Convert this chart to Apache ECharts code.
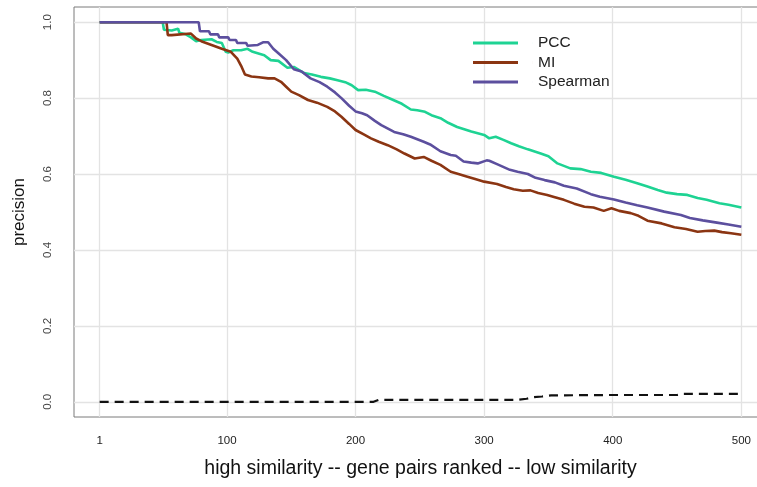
<!DOCTYPE html>
<html>
<head>
<meta charset="utf-8">
<script src="https://cdn.jsdelivr.net/npm/echarts@6/dist/echarts.min.js"></script>
<style>
  html, body { margin: 0; padding: 0; background: #ffffff; }
  #chart { width: 757px; height: 487px; }
</style>
</head>
<body>
<div id="chart"></div>
<script>
// Precision of the top-ranked gene pairs for three similarity measures,
// plus a random baseline (dashed). Each point is [rank, precision].
const xTicks = [1, 100, 200, 300, 400, 500];
const yTicks = [0, 0.2, 0.4, 0.6, 0.8, 1.0];

const pcc = [
  [1, 1.0], [50, 1.0], [51, 0.98], [57, 0.978], [58, 0.983], [62, 0.983], [63, 0.972],
  [68, 0.968], [72, 0.96], [76, 0.95], [80, 0.953], [88, 0.955], [92, 0.948], [96, 0.945],
  [99, 0.922], [101, 0.92], [105, 0.926], [111, 0.926], [116, 0.93], [120, 0.922],
  [129, 0.913], [134, 0.9], [140, 0.898], [147, 0.88], [152, 0.882], [160, 0.866],
  [166, 0.862], [173, 0.856], [180, 0.852], [186, 0.847], [192, 0.842], [197, 0.834],
  [202, 0.821], [208, 0.822], [215, 0.817], [222, 0.806], [228, 0.797], [236, 0.785],
  [243, 0.77], [248, 0.768], [254, 0.764], [259, 0.755], [266, 0.747], [272, 0.735],
  [279, 0.724], [290, 0.712], [300, 0.703], [304, 0.694], [309, 0.698], [315, 0.69],
  [321, 0.681], [327, 0.673], [334, 0.665], [344, 0.654], [350, 0.647], [357, 0.628],
  [367, 0.615], [375, 0.613], [383, 0.606], [391, 0.603], [401, 0.593], [410, 0.585],
  [419, 0.576], [427, 0.567], [435, 0.558], [442, 0.551], [450, 0.547], [458, 0.545],
  [466, 0.537], [473, 0.532], [483, 0.523], [490, 0.519], [500, 0.512]
];

const mi = [
  [1, 1.0], [53, 1.0], [54, 0.966], [57, 0.966], [58, 0.97], [72, 0.97], [76, 0.957],
  [80, 0.95], [88, 0.94], [96, 0.93], [103, 0.922], [108, 0.904], [111, 0.885],
  [114, 0.862], [119, 0.857], [125, 0.855], [132, 0.852], [137, 0.852], [142, 0.843],
  [146, 0.83], [150, 0.817], [156, 0.808], [163, 0.795], [170, 0.788], [178, 0.777],
  [184, 0.765], [189, 0.751], [195, 0.732], [200, 0.716], [206, 0.705], [212, 0.694],
  [218, 0.685], [225, 0.676], [232, 0.665], [238, 0.654], [246, 0.641], [253, 0.645],
  [259, 0.635], [266, 0.624], [274, 0.606], [280, 0.6], [287, 0.593], [293, 0.587],
  [300, 0.58], [310, 0.574], [317, 0.566], [323, 0.56], [330, 0.556], [336, 0.557],
  [342, 0.55], [349, 0.545], [355, 0.539], [362, 0.532], [370, 0.522], [378, 0.514],
  [385, 0.512], [393, 0.503], [399, 0.51], [405, 0.503], [414, 0.497], [420, 0.49],
  [427, 0.477], [438, 0.47], [448, 0.46], [457, 0.455], [466, 0.448], [472, 0.45],
  [479, 0.451], [485, 0.447], [492, 0.444], [500, 0.44]
];

const spearman = [
  [1, 1.0], [78, 1.0], [79, 0.976], [86, 0.976], [87, 0.968], [93, 0.968], [94, 0.96],
  [101, 0.96], [102, 0.953], [107, 0.953], [108, 0.945], [115, 0.945], [116, 0.938],
  [124, 0.94], [128, 0.947], [132, 0.947], [136, 0.93], [140, 0.918], [146, 0.9],
  [152, 0.876], [158, 0.87], [165, 0.852], [172, 0.842], [178, 0.83], [184, 0.815],
  [189, 0.8], [195, 0.78], [200, 0.765], [205, 0.76], [209, 0.755], [215, 0.74],
  [220, 0.729], [230, 0.711], [237, 0.705], [243, 0.698], [253, 0.685], [258, 0.678],
  [266, 0.66], [274, 0.65], [278, 0.648], [284, 0.633], [290, 0.63], [295, 0.628],
  [302, 0.636], [304, 0.635], [310, 0.626], [320, 0.611], [326, 0.606], [334, 0.6],
  [340, 0.59], [347, 0.584], [355, 0.578], [362, 0.569], [372, 0.562], [383, 0.547],
  [390, 0.54], [401, 0.533], [410, 0.525], [419, 0.518], [427, 0.512], [440, 0.501],
  [453, 0.492], [460, 0.484], [470, 0.478], [481, 0.472], [490, 0.467], [500, 0.461]
];

const baseline = [
  [1, 0], [214, 0], [218, 0.005], [326, 0.005], [333, 0.008], [338, 0.012],
  [345, 0.014], [352, 0.017], [400, 0.018], [450, 0.018], [455, 0.021], [500, 0.021]
];

const FONT = 'Liberation Sans, Arial, Helvetica, sans-serif';
const GRID_COLOR = '#e3e3e3';
// Legend key: a 45px stroke, with a hairline at the far end so the label sits 20px after it.
const KEY_ICON = 'path://M0,0 L45,0 L45,3 L0,3 Z M59.98,0 L60,0 L60,3 L59.98,3 Z';

const chart = echarts.init(document.getElementById('chart'), null, { renderer: 'canvas' });

function curve(name, data, color) {
  return {
    name: name,
    type: 'line',
    data: data,
    symbol: 'none',
    z: 3,
    lineStyle: { color: color, width: 2.6 },
    itemStyle: { color: color }
  };
}

chart.setOption({
  animation: false,
  backgroundColor: '#ffffff',
  grid: {
    left: 74, top: 7, width: 693, height: 410,
    containLabel: false, outerBoundsMode: 'none',
    show: true, borderColor: '#7a7a7a', borderWidth: 1, backgroundColor: '#ffffff'
  },
  legend: {
    orient: 'vertical',
    left: 468, top: 30,
    z: 10,
    itemWidth: 60, itemHeight: 3, itemGap: 3.5,
    icon: KEY_ICON,
    data: ['PCC', 'MI', 'Spearman'],
    textStyle: { fontFamily: FONT, fontSize: 15.5, color: '#222' }
  },
  xAxis: {
    type: 'value',
    min: -18.96, max: 519.96,
    name: 'high similarity -- gene pairs ranked -- low similarity',
    nameLocation: 'middle', nameGap: 42,
    nameTextStyle: { fontFamily: FONT, fontSize: 19.5, color: '#111' },
    axisLine: { show: false },
    axisTick: { show: true, customValues: xTicks, length: 5, lineStyle: { color: '#666' } },
    axisLabel: { customValues: xTicks, margin: 18, fontFamily: FONT, fontSize: 11.5, color: '#222' },
    splitLine: { show: false }
  },
  yAxis: {
    type: 'value',
    min: -0.04, max: 1.04,
    name: 'precision',
    nameLocation: 'middle', nameGap: 46,
    nameTextStyle: { fontFamily: FONT, fontSize: 17, color: '#111' },
    axisLine: { show: false },
    axisTick: { show: true, customValues: yTicks, length: 7, lineStyle: { color: '#666' } },
    axisLabel: {
      customValues: yTicks, rotate: 90, margin: 20,
      fontFamily: FONT, fontSize: 11.5, color: '#444',
      formatter: v => v.toFixed(1)
    },
    splitLine: { show: false }
  },
  series: [
    {
      name: 'random',
      type: 'line',
      data: baseline,
      symbol: 'none',
      z: 2,
      lineStyle: { color: '#111', width: 2.2, type: [9, 6] },
      markLine: {
        silent: true,
        z: 1,
        symbol: 'none',
        label: { show: false },
        lineStyle: { color: GRID_COLOR, width: 1.3, type: 'solid' },
        data: xTicks.map(v => ({ xAxis: v })).concat(yTicks.map(v => ({ yAxis: v })))
      }
    },
    curve('PCC', pcc, '#1ed393'),
    curve('MI', mi, '#8b3512'),
    curve('Spearman', spearman, '#5c4f9e')
  ]
});
</script>
</body>
</html>
